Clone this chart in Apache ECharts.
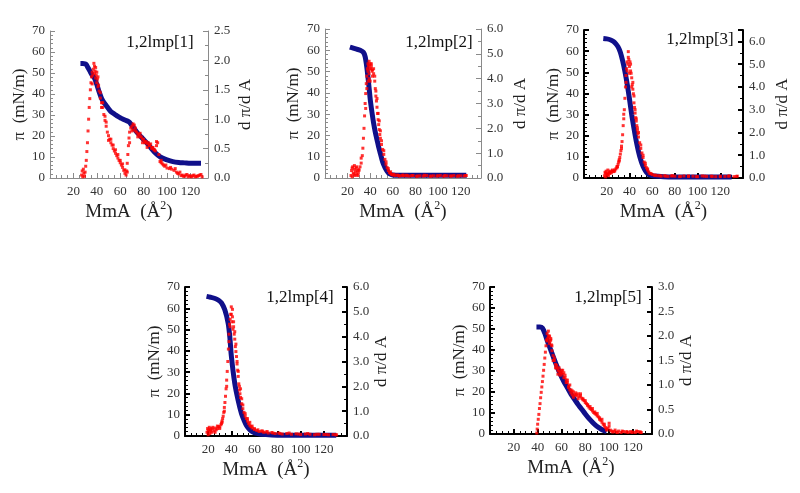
<!DOCTYPE html>
<html><head><meta charset="utf-8">
<script src="https://cdn.jsdelivr.net/npm/echarts@6/dist/echarts.min.js"></script>
<style>html,body{margin:0;padding:0;background:#fff}#c{width:800px;height:493px}</style>
</head><body><div id="c"></div>
<script>
// ---------- DATA ----------
const titles = ['1,2lmp[1]','1,2lmp[2]','1,2lmp[3]','1,2lmp[4]','1,2lmp[5]'];
const xTicks = [20,40,60,80,100,120];
const leftTicks = [0,10,20,30,40,50,60,70];

// Panel 1: isotherm (pi vs MmA) and dpi/dA
const p1IsoA  = [26,28,30,31,32,34,36,38,40,42,44,46,48,50,52,55,58,61,64,67,68,70,72,75,78,81,83,86,89,92,96,100,105,110,115,120,125,129];
const p1IsoPi = [54.5,54.5,54.3,54,53,51,49,47.5,44.5,41,38,36,34.5,33,31.6,30.5,29.3,28.4,27.6,26.9,26.5,25,23.5,21.3,19.5,17.7,16.5,14.5,12.5,11,9.5,8.6,7.8,7.4,7.2,7,7,7];
const p1DA = [27,27.5,28,28.5,29,29.5,30,30.5,31,31.5,32,32.5,33,33.5,34,34.5,35,35.5,36,36.5,37,37.5,38,38.5,39,39.5,40,40.5,41,41.5,42,43,44,45,46,47,48,49,50,51,52,53,54,55,56,57,58,59,60,61,62,63,64,65,65.5,66,66.5,67,67.5,68,69,70,71,72,73,74,75,76,77,78,79,80,81,82,83,84,85,86,87,88,89,90,91,92,93,94,95,96,97,98,100,102,104,106,108,110,112,114,116,118,120,122,124,126,128,130];
const p1DV = [0.05,0.12,0.02,0.15,0.08,0.03,0.1,0.2,0.3,0.45,0.6,0.8,1.0,1.2,1.35,1.5,1.62,1.72,1.8,1.75,1.85,1.95,1.78,1.82,1.7,1.75,1.62,1.68,1.55,1.58,1.48,1.36,1.28,1.2,1.08,0.98,0.88,0.78,0.72,0.66,0.6,0.56,0.5,0.46,0.42,0.38,0.34,0.3,0.26,0.22,0.18,0.13,0.08,0.05,0.12,0.25,0.4,0.55,0.68,0.78,0.85,0.88,0.82,0.9,0.8,0.78,0.75,0.74,0.7,0.7,0.66,0.66,0.6,0.62,0.58,0.6,0.55,0.58,0.52,0.52,0.48,0.46,0.55,0.6,0.4,0.28,0.26,0.24,0.22,0.2,0.17,0.16,0.15,0.13,0.1,0.07,0.04,0.03,0.05,0.02,0.03,0.04,0.02,0.03,0.05,0.02];
const p1DA2 = [36,38,39,40,41,43,44,45,47,48,50,52,54,56,58,60,62,64,66,68,70,71,73,75,77,79,81,83,85,87,89,91,95,99,103,107,109,111,113,115,117,119,121,123,125,127,129];
const p1DV2 = [1.6,1.9,1.88,1.8,1.72,1.45,1.2,1.28,1.05,0.95,0.64,0.66,0.56,0.48,0.4,0.3,0.24,0.14,0.1,0.6,0.8,0.92,0.85,0.7,0.76,0.6,0.62,0.52,0.56,0.5,0.48,0.62,0.3,0.22,0.18,0.16,0.08,0.1,0.05,0.03,0.06,0.04,0.02,0.05,0.03,0.04,0.06];

// Panel 2
const p2IsoA  = [22,25,28,31,34,35.5,37,38.5,40,41.5,43,44.5,46,47.5,49,51,53,55,57,60,65,75,85,95,105,115,125];
const p2IsoPi = [61.5,61,60.5,60,59,57,52,45,37,31,25.8,21.5,18,14.5,11.5,7.5,5,3.2,2,1.4,1.3,1.3,1.3,1.3,1.3,1.3,1.3];
const p2DA = [23,23.5,24,24.5,25,25.5,26,26.5,27,27.5,28,28.5,29,29.5,30,31,32,33,33.5,34,34.5,35,35.5,36,36.5,37,37.5,38,38,38.5,39,39,39.5,40,40,40.5,41,41.5,42,43,44,44.5,45,45.5,46,46.5,47,47.5,48,48.5,49,50,51,52,53,54,55,56,57,58,59,60,62,64,66,68,70,72,75,78,81,84,87,90,93,96,99,102,105,108,111,114,117,120,123,125];
const p2DV = [0.1,0.3,0.05,0.45,0.2,0.15,0.35,0.1,0.25,0.4,0.15,0.3,0.1,0.2,0.35,0.45,0.6,0.9,1.2,1.6,2.0,2.5,3.0,3.4,3.8,4.1,4.4,4.6,3.9,4.5,4.7,4.2,4.55,4.6,3.9,4.4,4.5,4.3,4.35,4.2,4.1,3.6,3.3,3.1,2.85,2.6,2.35,2.15,1.95,1.75,1.6,1.35,1.15,0.95,0.75,0.55,0.42,0.3,0.22,0.18,0.14,0.12,0.1,0.12,0.08,0.1,0.09,0.11,0.08,0.1,0.07,0.09,0.08,0.1,0.07,0.09,0.08,0.1,0.07,0.09,0.08,0.1,0.07,0.09,0.08,0.1];
const p2DA2 = [24,26,28,30,32,36,37,38,39,40,41,42,43,44,45,46,47,48,49,50,52,54,56,58,61,65,69,73,77,82,88,94,100,106,112,118,124];
const p2DV2 = [0.4,0.5,0.45,0.3,0.8,2.8,3.6,4.3,4.0,4.4,4.6,4.1,4.4,3.9,3.5,3.2,2.6,2.3,1.9,1.5,1.1,0.65,0.38,0.25,0.15,0.1,0.12,0.09,0.1,0.08,0.11,0.08,0.09,0.1,0.08,0.09,0.1];

// Panel 3
const p3IsoA  = [17,20,23,26,28,30,32,34,36,38,40,42,44,46,48,50,52,54,56,58,62,70,80,90,100,110,120,130];
const p3IsoPi = [66,65.8,65.4,64.6,63.5,62,59.5,55.5,50.5,44.5,37.5,30,23.5,17.5,12.5,8.5,5.5,3.5,2.2,1.4,0.9,0.6,0.5,0.5,0.5,0.5,0.5,0.5];
const p3DA = [18,18.5,19,19.5,20,20.5,21,21.5,22,22.5,23,24,25,26,27,28,29,29.5,30,30.5,31,31.5,32,32.5,33,33.5,34,34.5,35,35.5,36,36.5,37,37.5,38,38.5,39,39.5,40,40.5,41,41.5,42,42.5,43,43.5,44,44.5,45,45.5,46,46.5,47,47.5,48,49,50,51,52,53,54,55,56,57,58,60,62,65,68,71,74,77,80,84,88,92,96,100,104,108,112,116,120,124,128,132,135];
const p3DV = [0.1,0.25,0.05,0.3,0.15,0.2,0.35,0.1,0.25,0.2,0.3,0.22,0.3,0.28,0.35,0.4,0.45,0.5,0.6,0.7,0.8,0.9,1.05,1.2,1.4,1.6,1.9,2.3,2.6,3.0,3.5,4.0,4.5,4.8,5.1,5.0,5.55,5.2,4.9,5.1,4.7,4.6,4.4,4.1,3.9,3.7,3.6,3.1,2.85,2.65,2.5,2.3,2.1,1.95,1.8,1.55,1.3,1.1,0.9,0.7,0.55,0.45,0.35,0.27,0.2,0.15,0.12,0.1,0.08,0.1,0.07,0.09,0.08,0.06,0.09,0.07,0.08,0.06,0.09,0.07,0.08,0.06,0.08,0.07,0.09,0.06,0.08];
const p3DA2 = [19,21,23,25,27,29,31,33,35,37,38,39,40,41,42,43,44,45,46,47,48,50,52,54,56,59,63,67,72,78,85,92,99,106,113,120,127,134];
const p3DV2 = [0.2,0.15,0.25,0.35,0.3,0.5,0.75,1.3,2.8,4.2,4.7,5.3,4.6,5.0,4.0,4.2,3.3,3.0,2.6,2.2,2.0,1.45,1.0,0.65,0.4,0.2,0.12,0.1,0.08,0.1,0.07,0.09,0.06,0.08,0.07,0.06,0.08,0.07];

// Panel 4
const p4IsoA  = [18.6,22,26,29,31.5,34.4,37.3,38.7,40.1,43,45.9,48.8,51,53.1,56,58.8,62,66,75,85,95,105,115,125,130.7];
const p4IsoPi = [65.6,65.2,64.6,63.8,62.5,59.3,53,46.7,37.3,24.7,16.8,10.5,7.4,5,3,1.9,1.2,0.8,0.5,0.4,0.4,0.3,0.3,0.3,0.3];
const p4DA = [19,19.5,20,20.5,21,21.5,22,22.5,23,24,25,26,27,28,29,30,31,31.5,32,32.5,33,33.5,34,34.5,35,35.5,36,36.5,37,37.5,38,38.5,39,39.5,40,40.5,41,41.5,42,42.5,43,43.5,44,44.5,45,45.5,46,46.5,47,47.5,48,49,50,51,52,53,54,55,56,57,58,60,62,64,66,68,70,72,75,78,81,84,88,92,96,100,104,108,112,116,120,124,128,131];
const p4DV = [0.15,0.3,0.05,0.25,0.35,0.1,0.2,0.3,0.15,0.28,0.2,0.32,0.25,0.3,0.38,0.36,0.45,0.5,0.6,0.7,0.8,0.95,1.15,1.35,1.6,1.9,2.25,2.6,3.0,3.5,4.1,4.5,4.7,4.9,5.2,4.6,4.8,4.3,4.4,4.1,3.9,3.6,3.4,3.2,2.9,2.65,2.4,2.1,1.85,1.7,1.55,1.3,1.1,0.95,0.8,0.7,0.6,0.5,0.43,0.38,0.32,0.26,0.22,0.18,0.2,0.15,0.16,0.12,0.14,0.1,0.12,0.08,0.1,0.07,0.09,0.06,0.08,0.07,0.05,0.07,0.06,0.05,0.06,0.05];
const p4DA2 = [20,22,24,26,28,30,32,34,36,38,39,40,41,42,43,44,45,46,47,48,49,50,52,54,56,58,60,63,67,71,76,82,90,98,106,114,122,130];
const p4DV2 = [0.2,0.25,0.35,0.15,0.4,0.3,0.55,1.0,2.0,3.8,4.4,4.9,5.1,4.6,4.2,3.7,3.0,2.6,2.0,1.9,1.5,1.25,0.9,0.7,0.55,0.4,0.3,0.25,0.2,0.18,0.12,0.1,0.12,0.08,0.1,0.07,0.06,0.05];

// Panel 5
const p5IsoA  = [39,42,44,46,48,50,53,56,59,62,65,68,71,74,77,80,83,86,89,92,95,98];
const p5IsoPi = [51,51,50.5,48,44.5,41.5,37,32.5,28.5,25,22,19,16.5,14,11.8,9.5,7.4,5.6,4,2.8,1.8,1.2];
const p5DA = [39.3,39.6,40,40.5,41,41.5,42,42.5,43,43.5,44,44.5,45,45.5,46,46.5,47,47.5,48,48.5,49,49.5,50,50.5,51,51.5,52,53,54,55,56,57,58,59,60,61,62,63,64,65,66,67,68,69,70,71,72,73,74,75,76,77,78,79,80,81,82,83,84,85,86,87,88,89,90,91,92,93,94,95,96,97,98,99,100,101,102,104,106,108,110,112,114,116,118,120,122,124,126,127];
const p5DV = [0.02,0.1,0.2,0.3,0.4,0.52,0.62,0.74,0.85,0.96,1.07,1.18,1.3,1.42,1.55,1.67,1.8,1.92,2.05,1.95,2.1,1.98,2.0,1.9,1.92,1.82,1.8,1.6,1.5,1.42,1.35,1.3,1.28,1.25,1.3,1.22,1.25,1.15,1.1,1.05,0.98,0.9,0.84,0.8,0.86,0.8,0.84,0.78,0.82,0.76,0.78,0.73,0.72,0.68,0.64,0.62,0.58,0.55,0.52,0.5,0.47,0.44,0.42,0.4,0.37,0.35,0.33,0.28,0.24,0.2,0.16,0.13,0.1,0.12,0.16,0.08,0.06,0.05,0.04,0.06,0.03,0.05,0.04,0.03,0.05,0.04,0.03,0.05,0.04,0.03];
const p5DA2 = [48,49,50,51,52,53,54,55,56,57,58,59,60,61,62,63,64,65,66,67,68,69,70,72,74,76,78,80,82,84,86,88,90,92,94,96,98,100,103,105,107,111,115,119,123,126];
const p5DV2 = [1.9,2.0,1.85,1.95,1.7,1.5,1.55,1.35,1.4,1.22,1.35,1.2,1.25,1.3,1.15,1.2,1.05,1.1,0.95,1.0,0.9,0.88,0.75,0.8,0.72,0.82,0.7,0.68,0.6,0.56,0.52,0.45,0.42,0.3,0.3,0.2,0.08,0.22,0.04,0.08,0.03,0.06,0.05,0.03,0.06,0.04];

const rightMax = [2.5, 6.0, 6.5, 6.0, 3.0];
const rightInterval = [0.5, 1.0, 1.0, 1.0, 0.5];
const xMax = [135, 138, 140, 140, 136];

// ---------- LAYOUT ----------
const layout = [
  {left:50, top:31, right:208, bottom:178, ax:'#8a8a8a', aw:1, lg:20, rg:29, tx:160, ty:43},
  {left:325, top:29, right:481, bottom:178, ax:'#8a8a8a', aw:1, lg:23, rg:31, tx:439, ty:43},
  {left:584, top:30, right:743, bottom:178, ax:'#000', aw:2, lg:22, rg:31, tx:700, ty:40},
  {left:185, top:287, right:347, bottom:436, ax:'#000', aw:2, lg:21, rg:25, tx:300, ty:298},
  {left:490, top:287, right:652, bottom:434, ax:'#000', aw:2, lg:20, rg:23, tx:608, ty:298}
];

const iso = [[p1IsoA,p1IsoPi],[p2IsoA,p2IsoPi],[p3IsoA,p3IsoPi],[p4IsoA,p4IsoPi],[p5IsoA,p5IsoPi]];
const der = [[p1DA,p1DV,p1DA2,p1DV2],[p2DA,p2DV,p2DA2,p2DV2],[p3DA,p3DV,p3DA2,p3DV2],[p4DA,p4DV,p4DA2,p4DV2],[p5DA,p5DV,p5DA2,p5DV2]];
const zip = (a,b) => a.map((v,i)=>[v,b[i]]);

const SERIF = 'Liberation Serif';
const grid=[], xAxis=[], yAxis=[], series=[], graphic=[];
layout.forEach((L,i)=>{
  grid.push({left:L.left, top:L.top, width:L.right-L.left, height:L.bottom-L.top, outerBoundsMode:'none', containLabel:false});
  const lineS = {color:L.ax, width:L.aw};
  xAxis.push({
    gridIndex:i, type:'value', min:0, max:xMax[i], interval:20,
    axisLine:{show:true, onZero:false, lineStyle:lineS},
    axisTick:{show:true, inside:true, length:5, lineStyle:lineS},
    minorTick:{show:true, splitNumber:4, length:3, lineStyle:{color:L.ax, width:1}},
    splitLine:{show:false},
    axisLabel:{showMinLabel:false, showMaxLabel:false, fontFamily:SERIF, fontSize:13, color:'#333', margin:7,
      formatter:v=> xTicks.includes(v)? String(v):''},
    name:'MmA  (Å{s|2})', nameLocation:'middle', nameGap:22,
    nameTextStyle:{fontFamily:SERIF, fontSize:19, color:'#222',
      rich:{s:{fontFamily:SERIF, fontSize:12, color:'#222', verticalAlign:'top', padding:[0,0,12,0]}}}
  });
  yAxis.push({
    gridIndex:i, type:'value', position:'left', min:0, max:70, interval:10,
    axisLine:{show:true, onZero:false, lineStyle:lineS},
    axisTick:{show:true, inside:true, length:5, lineStyle:lineS},
    minorTick:{show:true, splitNumber:5, length:3, lineStyle:{color:L.ax, width:1}},
    splitLine:{show:false},
    axisLabel:{fontFamily:SERIF, fontSize:13, color:'#333', margin:5,
      formatter:v=> leftTicks.includes(v)? String(v):''},
    name:'π  (mN/m)', nameLocation:'middle', nameGap:L.lg, nameRotate:90,
    nameTextStyle:{fontFamily:SERIF, fontSize:17, color:'#222'}
  });
  yAxis.push({
    gridIndex:i, type:'value', position:'right', min:0, max:rightMax[i], interval:rightInterval[i],
    axisLine:{show:true, onZero:false, lineStyle:lineS},
    axisTick:{show:true, inside:true, length:5, lineStyle:lineS},
    minorTick:{show:true, splitNumber:2, length:3, lineStyle:{color:L.ax, width:1}},
    splitLine:{show:false},
    axisLabel:{showMaxLabel: i!==2, fontFamily:SERIF, fontSize:13, color:'#333', margin:6,
      formatter:v=> v.toFixed(1)},
    name:'d π/d A', nameLocation:'middle', nameGap:L.rg, nameRotate:90,
    nameTextStyle:{fontFamily:SERIF, fontSize:17, color:'#222'}
  });
  series.push({
    type:'line', xAxisIndex:i, yAxisIndex:2*i, data:zip(iso[i][0],iso[i][1]),
    smooth:0.3, showSymbol:false, lineStyle:{color:'#10108a', width:5}, z:2, silent:true
  });
  const pts = zip(der[i][0],der[i][1]).concat(zip(der[i][2],der[i][3]));
  series.push({
    type:'scatter', xAxisIndex:i, yAxisIndex:2*i+1, data:pts,
    symbol:'rect', symbolSize:3, itemStyle:{color:'#ff0000'}, z:3, silent:true
  });
  graphic.push({type:'text', x:L.tx, y:L.ty, style:{text:titles[i], font:'17px "Liberation Serif"', fill:'#111', align:'center', verticalAlign:'middle'}});
});

const chart = echarts.init(document.getElementById('c'), null, {renderer:'canvas'});
chart.setOption({animation:false, backgroundColor:'#fff', grid, xAxis, yAxis, series, graphic});
</script>
</body></html>
